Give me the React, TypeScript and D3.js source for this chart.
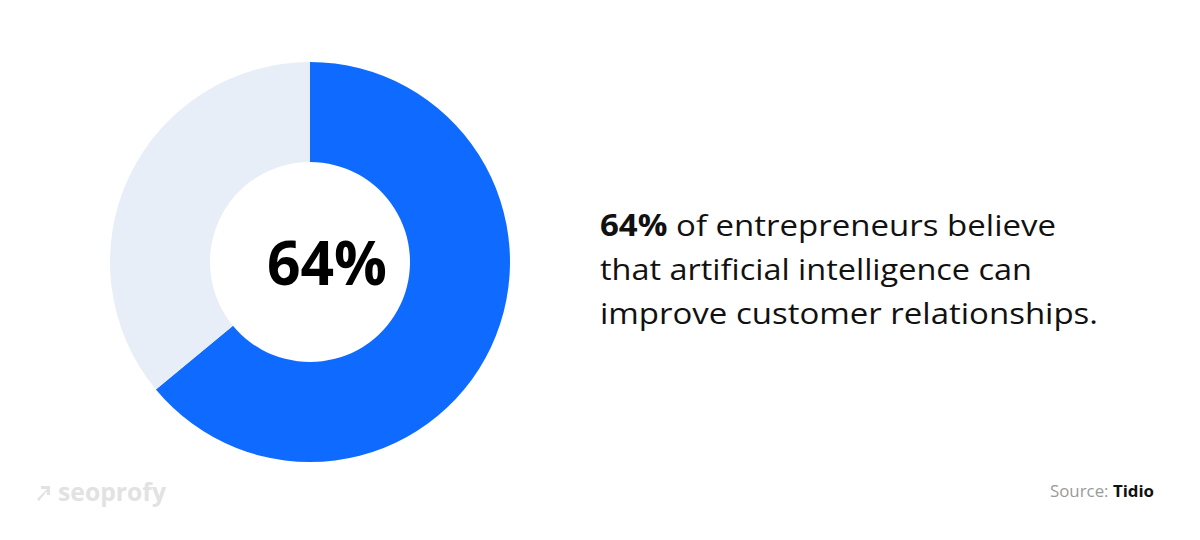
import React from "react";
import * as d3 from "d3";

const categories = ["Believe AI can improve relationships", "Other"];
const values = [64, 36];
const colors = ["#0F6BFF", "#E8EEF7"];
const centerLabel = "64%";
const statLines = [
  [{ t: "64%", b: true }, { t: " of entrepreneurs believe", b: false }],
  [{ t: "that artificial intelligence can", b: false }],
  [{ t: "improve customer relationships.", b: false }],
];
const sourceLabel = "Source: ";
const sourceName = "Tidio";
const brand = "seoprofy";

const W = 1200;
const H = 540;
const FONT = "'Open Sans', Lato, sans-serif";

export default function App() {
  const cx = 310;
  const cy = 262;
  const pie = d3.pie<number>().sort(null).value((d) => d)(values);
  const arc = d3.arc<d3.PieArcDatum<number>>().innerRadius(100).outerRadius(200);
  const lineLens = [456, 432, 498];
  return (
    <svg
      width={W}
      height={H}
      style={{ position: "absolute", left: 0, top: 0, background: "#fff" }}
      fontFamily={FONT}
    >
      <rect width={W} height={H} fill="#fff" />
      <g transform={`translate(${cx},${cy})`}>
        {pie.map((p, i) => (
          <path key={categories[i]} d={arc(p) || ""} fill={colors[i]} />
        ))}
        <text
          x={17}
          y={23}
          textAnchor="middle"
          fontSize={60}
          fontWeight={700}
          fill="#000"
          textLength={120}
          lengthAdjust="spacingAndGlyphs"
        >
          {centerLabel}
        </text>
      </g>
      {statLines.map((line, i) => (
        <text
          key={i}
          x={600}
          y={236 + i * 44}
          fontSize={30}
          fill="#111"
          textLength={lineLens[i]}
          lengthAdjust="spacingAndGlyphs"
        >
          {line.map((s, j) => (
            <tspan key={j} fontWeight={s.b ? 700 : 400}>
              {s.t}
            </tspan>
          ))}
        </text>
      ))}
      <text x={1154} y={497} textAnchor="end" fontSize={16} textLength={104} lengthAdjust="spacingAndGlyphs">
        <tspan fill="#9a9a9a">{sourceLabel}</tspan>
        <tspan fill="#111" fontWeight={700}>
          {sourceName}
        </tspan>
      </text>
      <g fill="#E2E2E2">
        <path
          d="M37,499 L47,489 L41,489 L41,486 L50,486 L50,495 L47,495 L47,491 L39,501 Z"
          fill="#E2E2E2"
        />
        <text x={58} y={501} fontSize={25} fontWeight={700} textLength={108} lengthAdjust="spacingAndGlyphs">
          {brand}
        </text>
      </g>
    </svg>
  );
}
